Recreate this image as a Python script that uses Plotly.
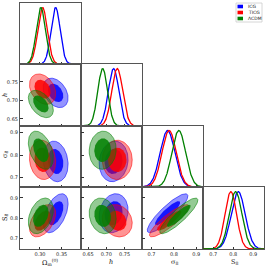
import numpy as np
import plotly.graph_objects as go

W, H = 268, 267

# ---- data ----
param_labels = ["Ω<sub>m</sub><sup>(0)</sup>", "<i>h</i>", "σ<sub>8</sub>", "S<sub>8</sub>"]
models = ["ICG", "TICG", "ΛCDM"]
model_colors = ["rgb(0,0,255)", "rgb(255,0,0)", "rgb(0,128,0)"]
model_rgb = [(0, 0, 255), (255, 0, 0), (0, 128, 0)]

# means: Om, h, sigma8, S8
mean_icg = [0.336, 0.720, 0.772, 0.825]
mean_ticg = [0.306, 0.730, 0.779, 0.788]
mean_lcdm = [0.302, 0.690, 0.822, 0.812]
sigma_icg = [0.0105, 0.0145, 0.033, 0.035]
sigma_ticg = [0.011, 0.015, 0.032, 0.029]
sigma_lcdm = [0.0105, 0.0135, 0.031, 0.032]
# pair correlations: (Om,h),(Om,s8),(Om,S8),(h,s8),(h,S8),(s8,S8)
corr_icg = [-0.35, -0.15, 0.5, 0.1, 0.15, 0.88]
corr_ticg = [-0.3, -0.1, 0.45, 0.0, -0.15, 0.88]
corr_lcdm = [-0.45, -0.4, 0.35, 0.05, -0.15, 0.88]

axis_ranges = [[0.254, 0.3945], [0.6305, 0.798], [0.658, 0.93], [0.649, 0.954]]
tick_vals = [[0.30, 0.35], [0.65, 0.70, 0.75], [0.7, 0.8, 0.9], [0.7, 0.8, 0.9]]
tick_text = [["0.30", "0.35"], ["0.65", "0.70", "0.75"], ["0.7", "0.8", "0.9"], ["0.7", "0.8", "0.9"]]

means = [mean_icg, mean_ticg, mean_lcdm]
sigmas = [sigma_icg, sigma_ticg, sigma_lcdm]
corrs = [corr_icg, corr_ticg, corr_lcdm]
pairs = [(0, 1), (0, 2), (0, 3), (1, 2), (1, 3), (2, 3)]

# ---- layout geometry (pixels) ----
col_edges = [20, 81, 142, 203, 264]
row_edges = [3, 64, 126, 187, 249]

fig = go.Figure()
layout = dict(width=W, height=H, margin=dict(l=0, r=0, t=0, b=0),
              paper_bgcolor="white", plot_bgcolor="white", showlegend=False)

tickfont = dict(family="DejaVu Sans", size=5, color="#222")
n = 0
panel_axes = {}
for i in range(4):
    for j in range(i + 1):
        n += 1
        xa = "xaxis" if n == 1 else f"xaxis{n}"
        ya = "yaxis" if n == 1 else f"yaxis{n}"
        xr = "x" if n == 1 else f"x{n}"
        yr = "y" if n == 1 else f"y{n}"
        panel_axes[(i, j)] = (xr, yr)
        layout[xa] = dict(domain=[col_edges[j] / W, col_edges[j + 1] / W], anchor=yr,
                          range=axis_ranges[j], showgrid=False, zeroline=False,
                          showline=True, mirror=True, linecolor="#555", linewidth=1,
                          ticks="inside", ticklen=2.5, tickwidth=0.8, tickcolor="#333",
                          tickvals=tick_vals[j], ticktext=tick_text[j],
                          showticklabels=(i == 3), tickfont=tickfont)
        if i == j:
            yd = dict(range=[0, 1.08], showticklabels=False, ticks="")
        else:
            yd = dict(range=axis_ranges[i], ticks="inside", ticklen=2.5, tickwidth=0.8,
                      tickcolor="#333", tickvals=tick_vals[i], ticktext=tick_text[i],
                      showticklabels=(j == 0), tickfont=tickfont)
        layout[ya] = dict(domain=[1 - row_edges[i + 1] / H, 1 - row_edges[i] / H], anchor=xr,
                          showgrid=False, zeroline=False, showline=True, mirror=True,
                          linecolor="#555", linewidth=1, **yd)


def ellipse(mx, my, sx, sy, rho, r, npts=120):
    cov = np.array([[sx * sx, rho * sx * sy], [rho * sx * sy, sy * sy]])
    vals, vecs = np.linalg.eigh(cov)
    t = np.linspace(0, 2 * np.pi, npts)
    circ = np.vstack([np.cos(t), np.sin(t)])
    pts = vecs @ (np.sqrt(vals)[:, None] * circ) * r
    return mx + pts[0], my + pts[1]


# 2D contour radii (68% / 95%), slightly broadened like the KDE-smoothed originals
smooth = 1.12
r68 = np.sqrt(2.30) * smooth
r95 = np.sqrt(5.99) * smooth

# 2D panels
for k, m in enumerate(models):
    cr, cg, cb = model_rgb[k]
    for p, (a, b) in enumerate(pairs):
        xr, yr = panel_axes[(b, a)]
        rho = corrs[k][p]
        for r, alpha, lw in [(r95, 0.42, 0.7), (r68, 0.85, 0.0)]:
            ex, ey = ellipse(means[k][a], means[k][b], sigmas[k][a], sigmas[k][b], rho, r)
            fig.add_trace(go.Scatter(
                x=ex, y=ey, xaxis=xr, yaxis=yr, mode="lines", fill="toself",
                fillcolor=f"rgba({cr},{cg},{cb},{alpha})",
                line=dict(color=f"rgba({cr},{cg},{cb},0.8)", width=lw),
                hoverinfo="skip"))

# 1D panels
for k, m in enumerate(models):
    for a in range(4):
        xr, yr = panel_axes[(a, a)]
        xs = np.linspace(axis_ranges[a][0], axis_ranges[a][1], 300)
        ys = np.exp(-0.5 * ((xs - means[k][a]) / sigmas[k][a]) ** 2)
        fig.add_trace(go.Scatter(x=xs, y=ys, xaxis=xr, yaxis=yr, mode="lines",
                                 line=dict(color=model_colors[k], width=1.3),
                                 hoverinfo="skip"))

fig.update_layout(**layout)

# axis titles
titlefont = dict(family="DejaVu Serif", size=6.5, color="#111")
x_title_pos = [(50, 262), (111, 262), (174, 262), (234, 262)]
for a, (px, py) in enumerate(x_title_pos):
    fig.add_annotation(x=px / W, y=1 - py / H, xref="paper", yref="paper",
                       text=param_labels[a], showarrow=False, font=titlefont,
                       xanchor="center", yanchor="middle")
y_title_pos = [(5, 95), (5, 155), (5, 218)]
for a, (px, py) in zip([1, 2, 3], y_title_pos):
    fig.add_annotation(x=px / W, y=1 - py / H, xref="paper", yref="paper",
                       text=param_labels[a], showarrow=False, font=titlefont,
                       textangle=-90, xanchor="center", yanchor="middle")

# legend (manual)
fig.add_shape(type="rect", xref="paper", yref="paper",
              x0=236 / W, x1=262 / W, y0=1 - 22 / H, y1=1 - 3 / H,
              line=dict(color="#ccc", width=0.8), fillcolor="white")
for k, m in enumerate(models):
    yc = [6.5, 12.5, 18.5][k]
    fig.add_shape(type="rect", xref="paper", yref="paper",
                  x0=237.5 / W, x1=243 / W, y0=1 - (yc + 1.8) / H, y1=1 - (yc - 1.8) / H,
                  line=dict(width=0), fillcolor=model_colors[k])
    fig.add_annotation(x=245.5 / W, y=1 - yc / H, xref="paper", yref="paper",
                       text=m, showarrow=False, xanchor="left", yanchor="middle",
                       font=dict(family="DejaVu Sans", size=4.5, color="#222"))

fig.write_html("out.html", config={"displayModeBar": False},
               post_script="document.body.style.margin='0';document.body.style.overflow='hidden';")
